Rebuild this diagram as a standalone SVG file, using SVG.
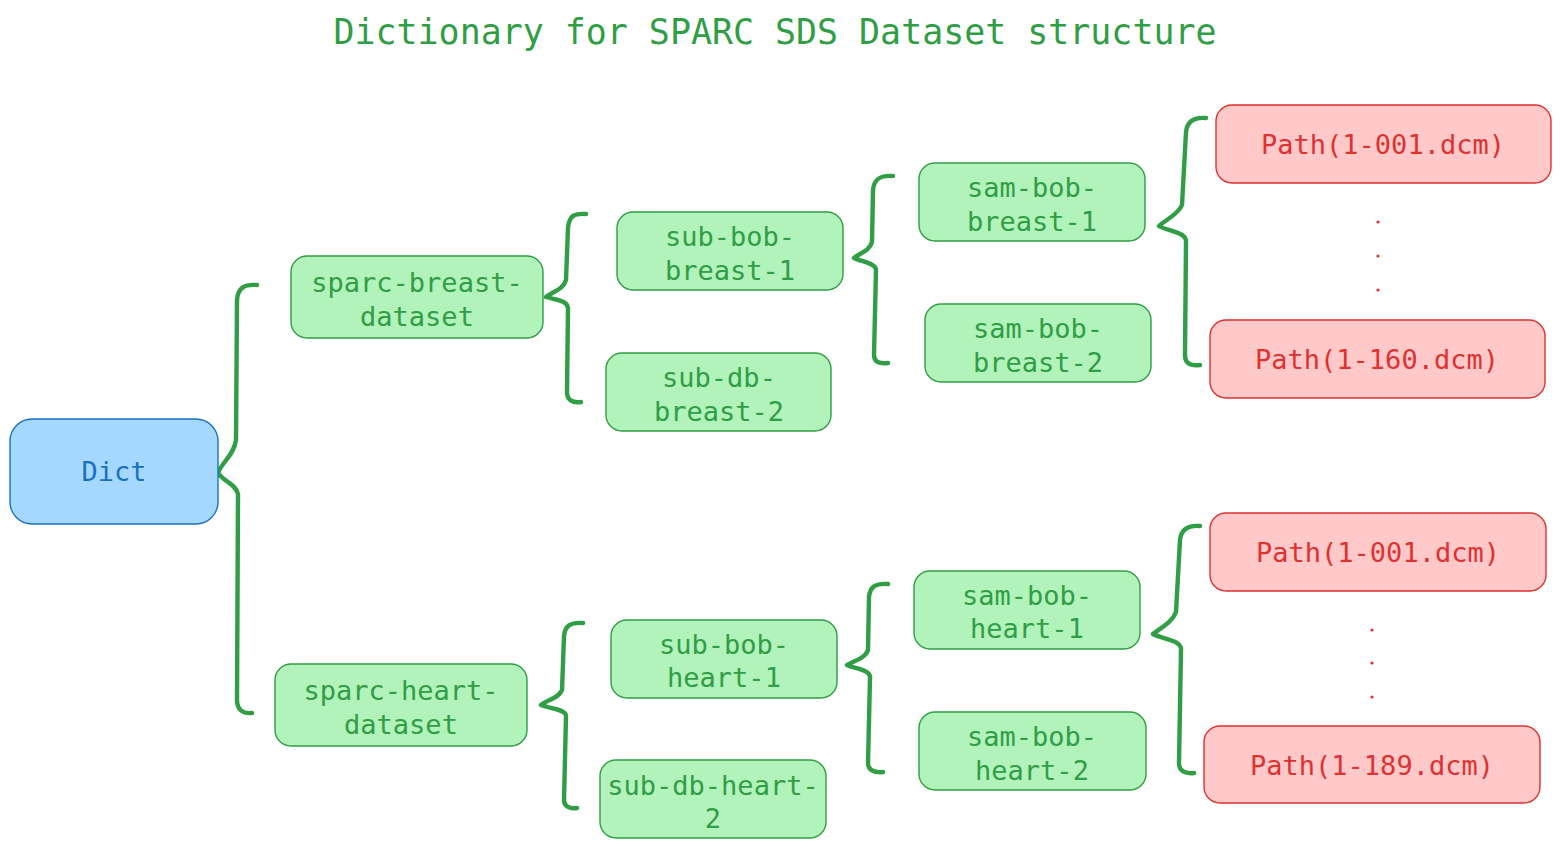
<svg xmlns="http://www.w3.org/2000/svg" width="1561" height="848" viewBox="0 0 1561 848">
<style>
text{font-family:"DejaVu Sans Mono","Liberation Mono",monospace;text-anchor:middle;dominant-baseline:central}
.t{font-size:36px;fill:#2f9e44}
.g rect{fill:#b2f2bb;stroke:#2f9e44;stroke-width:1.4}
.g text{font-size:27px;fill:#2f9e44}
.r rect{fill:#ffc9c9;stroke:#e03131;stroke-width:1.4}
.r text{font-size:27px;fill:#e03131}
.b rect{fill:#a5d8ff;stroke:#1971c2;stroke-width:1.4}
.b text{font-size:27px;fill:#1971c2}
.br{fill:none;stroke:#2f9e44;stroke-width:4.4;stroke-linecap:round;stroke-linejoin:round}
.dot{fill:#e03131}
</style>
<rect width="1561" height="848" fill="#ffffff"/>
<text class="t" x="775" y="31" textLength="883" lengthAdjust="spacingAndGlyphs">Dictionary for SPARC SDS Dataset structure</text>

<g id="connectors">
<path class="br" d="M257,285 C244,284 238,288 237,300 L236,440 C234,455 222,462 218,473 C224,482 236,484 238,494 L237,700 C237,710 243,714 252,713"/>
<path class="br" d="M586,214 C574,213 569,216 568,228 L566,280 C563,290 552,292 546,297 C556,300 567,300 568,308 L567,392 C567,400 572,403 581,402"/>
<path class="br" d="M893,176 C880,175 874,179 873,190 L872,242 C869,252 859,253 854,258 C862,262 876,263 876,270 L874,355 C874,362 879,364 888,363"/>
<path class="br" d="M1206,118 C1193,117 1187,122 1186,132 L1182,205 C1178,215 1165,220 1159,226 C1167,231 1187,232 1186,242 L1185,355 C1185,364 1191,366 1200,365"/>
<path class="br" d="M583,623 C570,622 565,626 564,636 L562,690 C559,698 547,700 541,705 C551,709 566,709 566,716 L564,800 C564,806 569,809 577,808"/>
<path class="br" d="M888,584 C875,583 870,587 869,597 L868,650 C865,659 853,661 847,665 C856,669 871,670 870,678 L868,763 C868,770 874,773 883,772"/>
<path class="br" d="M1200,526 C1187,525 1181,530 1180,540 L1176,612 C1172,623 1160,628 1153,634 C1162,639 1182,640 1181,650 L1179,763 C1179,771 1185,774 1194,773"/>
</g>

<g id="dict" class="b"><rect x="10" y="419" width="208" height="105" rx="22"/><text x="114" y="471">Dict</text></g>

<g id="sparc-breast-dataset" class="g"><rect x="291" y="256" width="252" height="82" rx="16"/><text x="417" y="282">sparc-breast-</text><text x="417" y="316">dataset</text></g>
<g id="sub-bob-breast-1" class="g"><rect x="617" y="212" width="226" height="78" rx="16"/><text x="730" y="236">sub-bob-</text><text x="730" y="270">breast-1</text></g>
<g id="sub-db-breast-2" class="g"><rect x="606" y="353" width="225" height="78" rx="16"/><text x="719" y="377">sub-db-</text><text x="719" y="411">breast-2</text></g>
<g id="sam-bob-breast-1" class="g"><rect x="919" y="163" width="226" height="78" rx="16"/><text x="1032" y="187">sam-bob-</text><text x="1032" y="221">breast-1</text></g>
<g id="sam-bob-breast-2" class="g"><rect x="925" y="304" width="226" height="78" rx="16"/><text x="1038" y="328">sam-bob-</text><text x="1038" y="362">breast-2</text></g>
<g id="path-breast-001" class="r"><rect x="1216" y="105" width="335" height="78" rx="16"/><text x="1383" y="144">Path(1-001.dcm)</text></g>
<g id="path-breast-160" class="r"><rect x="1210" y="320" width="335" height="78" rx="16"/><text x="1377" y="359">Path(1-160.dcm)</text></g>
<g id="dots-breast"><circle class="dot" cx="1378" cy="222" r="1.6"/><circle class="dot" cx="1378" cy="256" r="1.6"/><circle class="dot" cx="1378" cy="290" r="1.6"/></g>

<g id="sparc-heart-dataset" class="g"><rect x="275" y="664" width="252" height="82" rx="16"/><text x="401" y="690">sparc-heart-</text><text x="401" y="724">dataset</text></g>
<g id="sub-bob-heart-1" class="g"><rect x="611" y="620" width="226" height="78" rx="16"/><text x="724" y="644">sub-bob-</text><text x="724" y="677">heart-1</text></g>
<g id="sub-db-heart-2" class="g"><rect x="600" y="760" width="226" height="78" rx="16"/><text x="713" y="785">sub-db-heart-</text><text x="713" y="818">2</text></g>
<g id="sam-bob-heart-1" class="g"><rect x="914" y="571" width="226" height="78" rx="16"/><text x="1027" y="595">sam-bob-</text><text x="1027" y="628">heart-1</text></g>
<g id="sam-bob-heart-2" class="g"><rect x="919" y="712" width="227" height="78" rx="16"/><text x="1032" y="736">sam-bob-</text><text x="1032" y="770">heart-2</text></g>
<g id="path-heart-001" class="r"><rect x="1210" y="513" width="336" height="78" rx="16"/><text x="1378" y="552">Path(1-001.dcm)</text></g>
<g id="path-heart-189" class="r"><rect x="1204" y="726" width="336" height="77" rx="16"/><text x="1372" y="765">Path(1-189.dcm)</text></g>
<g id="dots-heart"><circle class="dot" cx="1372" cy="630" r="1.6"/><circle class="dot" cx="1372" cy="663" r="1.6"/><circle class="dot" cx="1372" cy="697" r="1.6"/></g>
</svg>
